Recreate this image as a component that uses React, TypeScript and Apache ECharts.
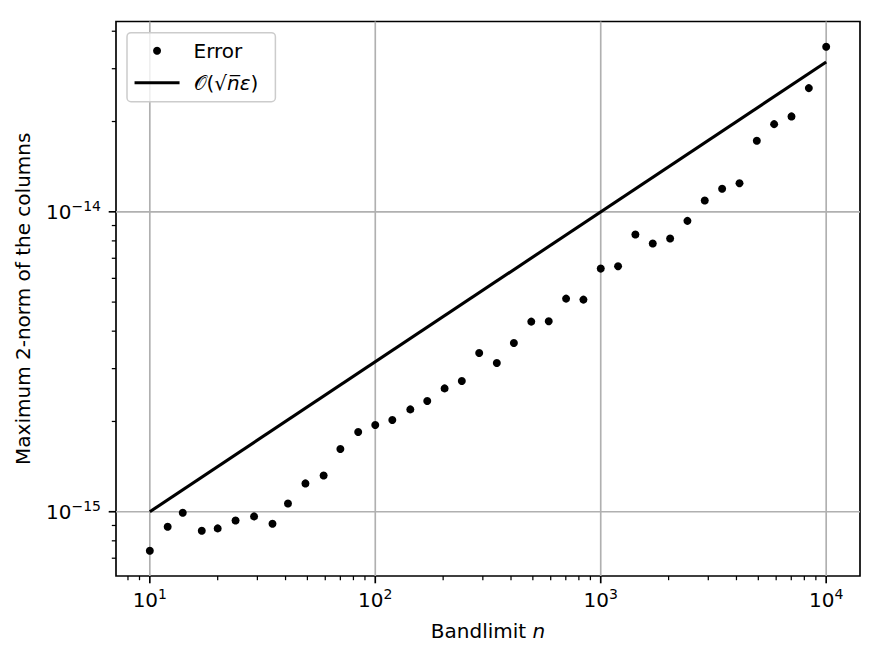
import React, { useEffect, useRef } from 'react';
import * as echarts from 'echarts';

// Bandlimits n (log-spaced, 40 points from 10 to 10^4)
const bandlimits = [
  10, 12, 14, 17, 20, 24, 29, 35, 41, 49, 59, 70, 84, 100, 119, 143, 170, 203, 242, 289,
  346, 412, 492, 588, 702, 838, 1000, 1194, 1425, 1701, 2031, 2424, 2894, 3455, 4125, 4924,
  5878, 7017, 8377, 10000,
];
// Maximum 2-norm of the columns
const errorNorms = [
  7.41e-16, 8.91e-16, 9.92e-16, 8.64e-16, 8.8e-16, 9.35e-16, 9.65e-16, 9.12e-16, 1.066e-15,
  1.243e-15, 1.321e-15, 1.619e-15, 1.844e-15, 1.946e-15, 2.023e-15, 2.194e-15, 2.341e-15,
  2.578e-15, 2.729e-15, 3.384e-15, 3.133e-15, 3.654e-15, 4.305e-15, 4.315e-15, 5.136e-15,
  5.097e-15, 6.467e-15, 6.583e-15, 8.4e-15, 7.84e-15, 8.15e-15, 9.33e-15, 1.091e-14,
  1.193e-14, 1.245e-14, 1.726e-14, 1.96e-14, 2.08e-14, 2.585e-14, 3.552e-14,
];
// Reference line O(sqrt(n) eps): end points
const referenceN = [10, 10000];
const referenceNorm = [1e-15, 3.16e-14];

// Tick values
const xMajorTicks = [10, 100, 1000, 10000];
const yMajorTicks = [1e-15, 1e-14];
const xLimitExp = [0.85, 4.15];

const ERROR_NAME = 'Error';
const REF_NAME = '𝒪(√n̅ε)';

// y values plotted in units of 1e-15 (ECharts rounds tiny log tick values)
const Y_UNIT_EXP = -15;
const Y_UNIT = Math.pow(10, Y_UNIT_EXP);

const FONT = "'DejaVu Sans', 'Noto Sans', sans-serif";

function minorTicks(minV: number, maxV: number): number[] {
  const out: number[] = [];
  for (let e = Math.floor(Math.log10(minV)); e <= Math.ceil(Math.log10(maxV)); e++) {
    for (let d = 2; d <= 9; d++) {
      const v = d * Math.pow(10, e);
      if (v >= minV && v <= maxV) out.push(v);
    }
  }
  return out;
}

function isPow10(v: number) {
  const e = Math.log10(v);
  return Math.abs(e - Math.round(e)) < 1e-6;
}

export default function App() {
  const ref = useRef<HTMLDivElement>(null);
  useEffect(() => {
    if (!ref.current) return;
    const chart = echarts.init(ref.current, undefined, { renderer: 'svg' });

    const yScaled = errorNorms.map((v) => v / Y_UNIT);
    const refScaled = referenceNorm.map((v) => v / Y_UNIT);
    const logs = yScaled.map((v) => Math.log10(v));
    const lo = Math.min(...logs);
    const hi = Math.max(...logs);
    const pad = 0.05 * (hi - lo);
    const yMin = Math.pow(10, lo - pad);
    const yMax = Math.pow(10, hi + pad);
    const xMin = Math.pow(10, xLimitExp[0]);
    const xMax = Math.pow(10, xLimitExp[1]);

    const xTickData: number[][] = [
      ...xMajorTicks.map((v) => [v, 1, 1]),
      ...minorTicks(xMin, xMax).map((v) => [v, 1, 0]),
    ];
    const yTickData: number[][] = [
      ...yMajorTicks.map((v) => [100, v / Y_UNIT, 1]),
      ...minorTicks(yMin, yMax).map((v) => [100, v, 0]),
    ];

    const tickSeries = (data: number[][], dir: 'x' | 'y') => ({
      type: 'custom',
      silent: true,
      z: 1,
      clip: false,
      data,
      encode: { x: 0, y: 1 },
      renderItem: (params: any, api: any) => {
        const cs = params.coordSys;
        const major = api.value(2) === 1;
        const len = major ? 7.3 : 4.2;
        const lw = major ? 1.67 : 1.25;
        const pt = api.coord([api.value(0), api.value(1)]);
        const children: any[] = [];
        if (dir === 'x') {
          const px = pt[0];
          const bottom = cs.y + cs.height;
          if (major)
            children.push({
              type: 'line',
              shape: { x1: px, y1: cs.y, x2: px, y2: bottom },
              style: { stroke: '#b0b0b0', lineWidth: 1.67 },
            });
          children.push({
            type: 'line',
            shape: { x1: px, y1: bottom, x2: px, y2: bottom + len },
            style: { stroke: '#000', lineWidth: lw },
          });
        } else {
          const py = pt[1];
          const left = cs.x;
          if (major)
            children.push({
              type: 'line',
              shape: { x1: left, y1: py, x2: left + cs.width, y2: py },
              style: { stroke: '#b0b0b0', lineWidth: 1.67 },
            });
          children.push({
            type: 'line',
            shape: { x1: left - len, y1: py, x2: left, y2: py },
            style: { stroke: '#000', lineWidth: lw },
          });
        }
        return { type: 'group', children };
      },
    });

    const labelRich = {
      b: { fontSize: 20, fontFamily: FONT, color: '#000', lineHeight: 26, verticalAlign: 'middle' },
      s: { fontSize: 14, fontFamily: FONT, color: '#000', lineHeight: 14, verticalAlign: 'top' },
    };

    const option: any = {
      animation: false,
      backgroundColor: '#fff',
      grid: {
        left: 116,
        top: 21.5,
        right: 23,
        bottom: 82,
        show: true,
        borderColor: '#000',
        borderWidth: 1.67,
        backgroundColor: 'transparent',
      },
      legend: {
        orient: 'vertical',
        left: 127,
        top: 32.7,
        padding: [7, 17, 8, 6],
        itemGap: 10,
        itemWidth: 45,
        itemHeight: 8,
        borderColor: '#cccccc',
        borderWidth: 1.5,
        borderRadius: 4,
        backgroundColor: 'rgba(255,255,255,0.8)',
        data: [
          { name: ERROR_NAME, icon: 'circle', itemStyle: { color: '#000', opacity: 1 } },
          {
            name: REF_NAME,
            itemStyle: { opacity: 0 },
            lineStyle: { color: '#000', width: 3.1, opacity: 1 },
          },
        ],
        formatter: (name: string) =>
          name === ERROR_NAME ? name : '{o|𝒪}{t|(√}{i|n̅}{e|ε}{t|)}',
        textStyle: {
          fontSize: 20,
          fontFamily: FONT,
          color: '#000',
          lineHeight: 22,
          padding: [0, 0, 0, 9],
          rich: {
            o: { fontSize: 20, fontFamily: FONT, color: '#000', lineHeight: 22 },
            t: { fontSize: 20, fontFamily: FONT, color: '#000', lineHeight: 22 },
            i: { fontSize: 20, fontFamily: FONT, fontStyle: 'italic', color: '#000', lineHeight: 22 },
            e: { fontSize: 20, fontFamily: FONT, fontStyle: 'italic', color: '#000', lineHeight: 22 },
          },
        },
      },
      xAxis: {
        type: 'log',
        logBase: 10,
        min: xMin,
        max: xMax,
        axisLine: { show: false },
        axisTick: { show: false },
        splitLine: { show: false },
        axisLabel: {
          margin: 11,
          formatter: (v: number) =>
            isPow10(v) ? `{b|10}{s|${Math.round(Math.log10(v))}}` : '',
          rich: labelRich,
        },
        name: '{a|Bandlimit }{i|n}',
        nameLocation: 'middle',
        nameGap: 44.7,
        nameTextStyle: {
          rich: {
            a: { fontSize: 20, fontFamily: FONT, color: '#000', lineHeight: 20 },
            i: { fontSize: 20, fontFamily: FONT, fontStyle: 'italic', color: '#000', lineHeight: 20 },
          },
        },
      },
      yAxis: {
        type: 'log',
        logBase: 10,
        min: yMin,
        max: yMax,
        axisLine: { show: false },
        axisTick: { show: false },
        splitLine: { show: false },
        axisLabel: {
          margin: 15,
          formatter: (v: number) => {
            if (!isPow10(v)) return '';
            const e = Math.round(Math.log10(v)) + Y_UNIT_EXP;
            const s = e < 0 ? '−' + Math.abs(e) : String(e);
            return `{b|10}{s|${s}}`;
          },
          rich: labelRich,
        },
        name: 'Maximum 2-norm of the columns',
        nameLocation: 'middle',
        nameGap: 83,
        nameTextStyle: { fontSize: 20, fontFamily: FONT, color: '#000', lineHeight: 20 },
      },
      series: [
        tickSeries(xTickData, 'x'),
        tickSeries(yTickData, 'y'),
        {
          name: ERROR_NAME,
          type: 'scatter',
          z: 3,
          symbol: 'circle',
          symbolSize: 8,
          itemStyle: { color: '#000', opacity: 1 },
          data: bandlimits.map((n, i) => [n, yScaled[i]]),
        },
        {
          name: REF_NAME,
          type: 'line',
          z: 3,
          showSymbol: false,
          symbol: 'none',
          lineStyle: { color: '#000', width: 3.1 },
          itemStyle: { color: '#000' },
          data: referenceN.map((n, i) => [n, refScaled[i]]),
        },
      ],
    };

    chart.setOption(option);
    return () => chart.dispose();
  }, []);

  return (
    <div
      ref={ref}
      style={{ position: 'absolute', left: 0, top: 0, width: 883, height: 658 }}
    />
  );
}
